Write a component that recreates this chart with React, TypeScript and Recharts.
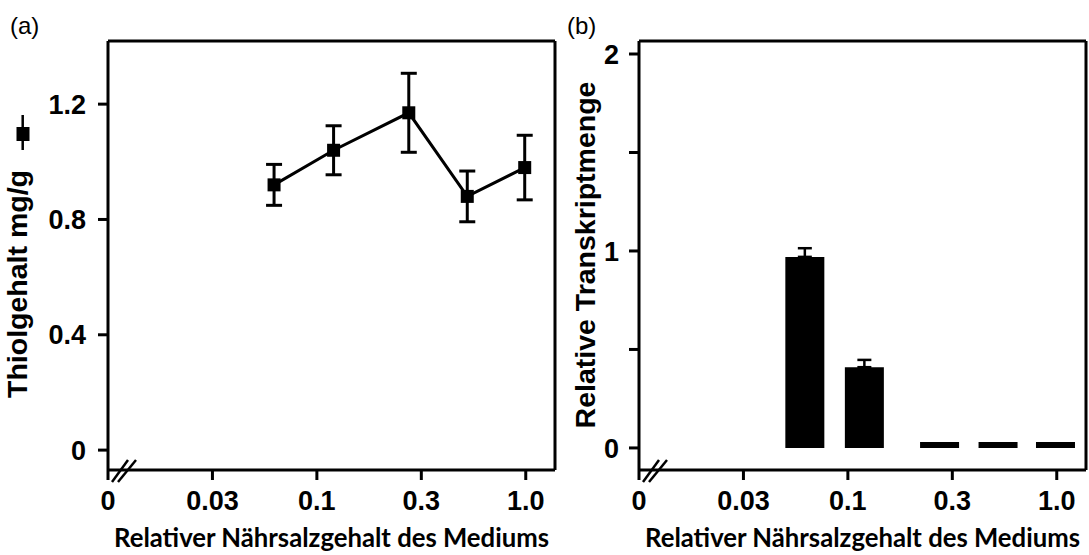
import { LineChart, Line, BarChart, Bar, XAxis, YAxis, ErrorBar, ReferenceLine, Label } from "recharts";

// x positions sit on the evenly spaced tick grid: 0 = "0", 1 = "0.03", 2 = "0.1", 3 = "0.3", 4 = "1.0"
const xTicks = [0, 1, 2, 3, 4];
const xTickLabels = ["0", "0.03", "0.1", "0.3", "1.0"];
const xPos = [1.59, 2.16, 2.88, 3.44, 3.99];

// (a) Thiolgehalt mg/g, mean ± error
const thiol = [0.92, 1.04, 1.17, 0.88, 0.98];
const thiolErr = [0.071, 0.085, 0.137, 0.088, 0.112];

// (b) relative Transkriptmenge, upper error only (none on the three small ones)
const transcript = [0.97, 0.41, 0.03, 0.03, 0.03];
const transcriptErr = [0.044, 0.037, null, null, null];

const aTicks = [0, 0.4, 0.8, 1.2];
const bTicks = [0, 0.5, 1, 1.5, 2];

const X_MAX = 4.28;
const A_DOMAIN = [-0.069, 1.419];
const B_DOMAIN = [-0.112, 2.066];

const lineData = xPos.map((x, i) => ({ x, y: thiol[i], err: thiolErr[i] }));
const barData = xPos.map((x, i) => ({
  x, y: transcript[i], err: transcriptErr[i] == null ? undefined : [0, transcriptErr[i]],
}));

const AXIS_FONT = "'Liberation Sans', Arial, Helvetica, sans-serif";
const TITLE_FONT = "Lato, 'Open Sans', sans-serif";
const tickStyle = { fill: "#000", fontSize: 27, fontWeight: 700, fontFamily: AXIS_FONT };
const axisLine = { stroke: "#000", strokeWidth: 3 };

const SquareDot = (p: any) => (
  <rect key={`d${p.index}`} x={p.cx - 6.5} y={p.cy - 6.5} width={13} height={13} fill="#000" />
);

// x title + axis break mark; cx = plot centre, left = plot left (chart coords)
const xTitle = (cx: number, left: number) => () => (
  <g>
    <line x1={left + 4} y1={482} x2={left + 20} y2={460} stroke="#000" strokeWidth={2.5} />
    <line x1={left + 10} y1={482} x2={left + 28} y2={460} stroke="#000" strokeWidth={2.5} />
    <text x={cx} y={547} textAnchor="middle" fontFamily={TITLE_FONT} fontWeight={700}
      fontSize={26} textLength={435} lengthAdjust="spacingAndGlyphs" fill="#000">
      Relativer Nährsalzgehalt des Mediums
    </text>
  </g>
);

export default function App() {
  return (
    <div style={{ position: "absolute", left: 0, top: 0, width: 1089, height: 555, background: "#fff" }}>
      <div style={{ position: "absolute", left: 0, top: 0 }}>
        <LineChart width={560} height={555} data={lineData} margin={{ top: 41, right: 5, bottom: 0, left: 0 }}>
          <XAxis type="number" dataKey="x" domain={[0, X_MAX]} ticks={xTicks} interval={0} allowDataOverflow
            tickFormatter={(v: number) => xTickLabels[v]} height={85} tick={tickStyle}
            axisLine={axisLine} tickLine={axisLine} tickSize={10} tickMargin={11}>
            <Label content={xTitle(331.5, 108)} />
          </XAxis>
          <YAxis type="number" domain={A_DOMAIN} ticks={aTicks} interval={0} allowDataOverflow width={108}
            tickFormatter={(v: number) => (v === 0 ? "0" : v.toFixed(1))} tick={tickStyle}
            axisLine={axisLine} tickLine={axisLine} tickSize={10} tickMargin={12}>
            <Label content={() => (
              <g>
                <text x={10} y={34} fontFamily={AXIS_FONT} fontSize={24} fill="#000">(a)</text>
                <line x1={22.7} y1={115} x2={22.7} y2={150} stroke="#000" strokeWidth={2.5} />
                <rect x={16.5} y={127} width={13} height={14} fill="#000" />
                <text x={27} y={284} transform="rotate(-90 27 284)" textAnchor="middle"
                  fontFamily={AXIS_FONT} fontWeight={700} fontSize={28.5} fill="#000">Thiolgehalt mg/g</text>
              </g>
            )} />
          </YAxis>
          <ReferenceLine y={A_DOMAIN[1]} stroke="#000" strokeWidth={3} ifOverflow="visible" />
          <ReferenceLine x={X_MAX} stroke="#000" strokeWidth={3} ifOverflow="visible" />
          <Line type="linear" dataKey="y" stroke="#000" strokeWidth={3} dot={SquareDot}
            activeDot={false} isAnimationActive={false}>
            <ErrorBar dataKey="err" direction="y" width={8} stroke="#000" strokeWidth={3} />
          </Line>
        </LineChart>
      </div>
      <div style={{ position: "absolute", left: 540, top: 0 }}>
        <BarChart width={549} height={555} data={barData} margin={{ top: 41, right: 3, bottom: 0, left: 0 }}>
          <XAxis type="number" dataKey="x" domain={[0, X_MAX]} ticks={xTicks} interval={0} allowDataOverflow
            tickFormatter={(v: number) => xTickLabels[v]} height={85} tick={tickStyle}
            axisLine={axisLine} tickLine={axisLine} tickSize={10} tickMargin={11}>
            <Label content={xTitle(322.5, 99)} />
          </XAxis>
          <YAxis type="number" domain={B_DOMAIN} ticks={bTicks} interval={0} allowDataOverflow width={99}
            tickFormatter={(v: number) => (Number.isInteger(v) ? String(v) : "")} tick={tickStyle}
            axisLine={axisLine} tickLine={axisLine} tickSize={10} tickMargin={10}>
            <Label content={() => (
              <g>
                <text x={27} y={34} fontFamily={AXIS_FONT} fontSize={24} fill="#000">(b)</text>
                <text x={55} y={255} transform="rotate(-90 55 255)" textAnchor="middle"
                  fontFamily={AXIS_FONT} fontWeight={700} fontSize={28.5} fill="#000">Relative Transkriptmenge</text>
              </g>
            )} />
          </YAxis>
          <ReferenceLine y={B_DOMAIN[1]} stroke="#000" strokeWidth={3} ifOverflow="visible" />
          <ReferenceLine x={X_MAX} stroke="#000" strokeWidth={3} ifOverflow="visible" />
          <Bar dataKey="y" fill="#000" barSize={39} isAnimationActive={false}>
            <ErrorBar dataKey="err" direction="y" width={7} stroke="#000" strokeWidth={2.5} />
          </Bar>
        </BarChart>
      </div>
    </div>
  );
}
